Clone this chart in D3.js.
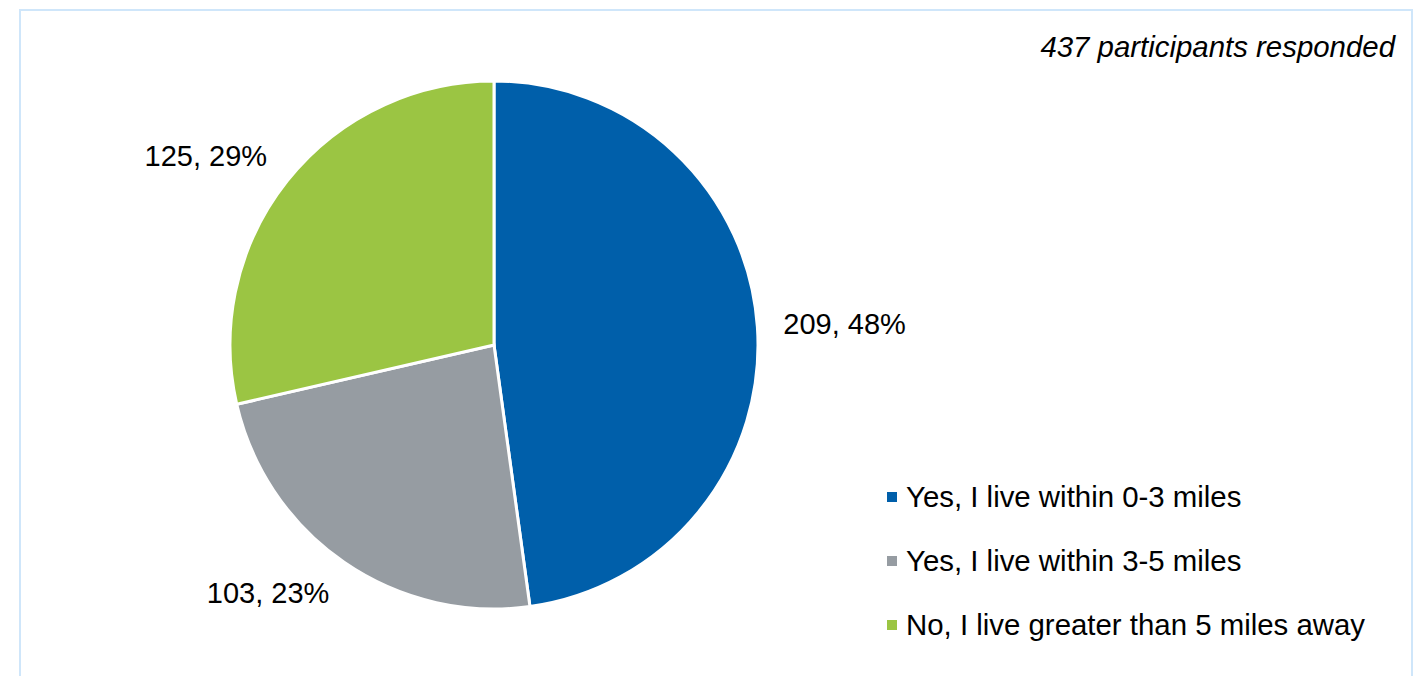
<!DOCTYPE html>
<html>
<head>
<meta charset="utf-8">
<script src="https://cdn.jsdelivr.net/npm/d3@7"></script>
<style>
  html, body { margin: 0; padding: 0; background: #fff; }
  svg { display: block; font-family: "Liberation Sans", Arial, sans-serif; }
</style>
</head>
<body>
<svg id="chart" width="1428" height="676"></svg>
<script>
// Survey responses: distance from home
const categories = [
  "Yes, I live within 0-3 miles",
  "Yes, I live within 3-5 miles",
  "No, I live greater than 5 miles away"
];
const counts = [209, 103, 125];
const colors = ["#005faa", "#969ca2", "#9bc543"];
const subtitle = "437 participants responded";

const svg = d3.select("#chart");
const fontSize = 29;
const legendFont = 29.4;

// light blue frame (open at the bottom edge of the view)
svg.append("rect")
  .attr("x", 20).attr("y", 10)
  .attr("width", 1392).attr("height", 720)
  .attr("fill", "none")
  .attr("stroke", "#cfe6fa")
  .attr("stroke-width", 2);

svg.append("text")
  .attr("x", 1395).attr("y", 57)
  .attr("text-anchor", "end")
  .attr("font-style", "italic")
  .attr("font-size", legendFont)
  .attr("fill", "#000")
  .text(subtitle);

const cx = 494, cy = 345, radius = 264;
const total = d3.sum(counts);

// whole-number percentages that add up to 100 (largest remainder)
const raw = counts.map(v => v / total * 100);
const pct = raw.map(Math.floor);
let left = 100 - d3.sum(pct);
d3.range(raw.length)
  .sort((a, b) => (raw[b] - pct[b]) - (raw[a] - pct[a]))
  .forEach(i => { if (left > 0) { pct[i] += 1; left -= 1; } });

const pie = d3.pie().sort(null).value(d => d)
  .startAngle(0).endAngle(2 * Math.PI);
const arcs = pie(counts);
const arc = d3.arc().innerRadius(0).outerRadius(radius);

const g = svg.append("g").attr("transform", `translate(${cx},${cy})`);

g.selectAll("path.slice")
  .data(arcs)
  .join("path")
  .attr("class", "slice")
  .attr("d", arc)
  .attr("fill", (d, i) => colors[i])
  .attr("stroke", "#fff")
  .attr("stroke-width", 3)
  .attr("stroke-linejoin", "miter");

// data labels placed just outside each slice, pushed away by their own box
const labelR = radius + 26;
const clamp = v => Math.max(-1, Math.min(1, v));
g.selectAll("text.lbl")
  .data(arcs)
  .join("text")
  .attr("class", "lbl")
  .attr("font-size", fontSize)
  .attr("fill", "#000")
  .attr("text-anchor", "middle")
  .text((d, i) => `${d.value}, ${pct[i]}%`)
  .each(function (d) {
    const a = (d.startAngle + d.endAngle) / 2;
    const s = Math.sin(a), c = Math.cos(a);
    const w = this.getComputedTextLength();
    const h = fontSize;
    const px = labelR * s, py = -labelR * c;
    const bx = px + (w / 2) * clamp(s * 3);
    const by = py - (h / 2) * clamp(c * 3) * 0.6;
    d3.select(this).attr("x", bx).attr("y", by + fontSize * 0.36);
  });

// legend
const legend = svg.append("g").attr("transform", "translate(887,0)");
const rows = legend.selectAll("g.row")
  .data(categories)
  .join("g")
  .attr("class", "row")
  .attr("transform", (d, i) => `translate(0,${507 + i * 64})`);
rows.append("rect")
  .attr("x", 0).attr("y", -15)
  .attr("width", 10).attr("height", 10)
  .attr("fill", (d, i) => colors[i]);
rows.append("text")
  .attr("x", 19).attr("y", 0)
  .attr("font-size", legendFont)
  .attr("fill", "#000")
  .text(d => d);
</script>
</body>
</html>
